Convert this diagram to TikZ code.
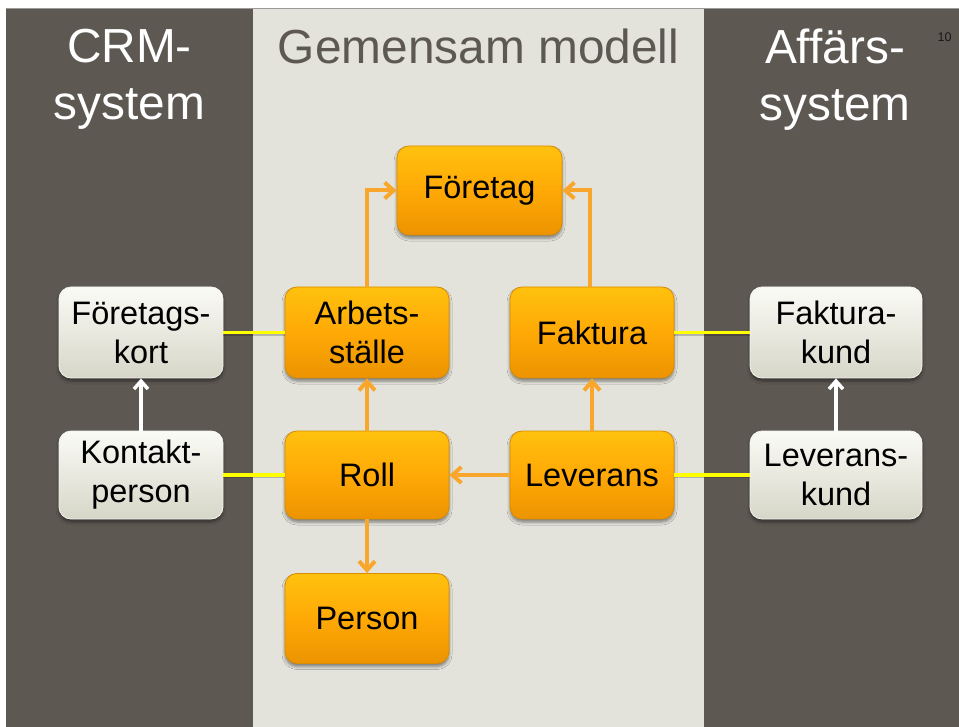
\documentclass[tikz,border=0pt]{standalone}
\usepackage{fontspec}
\setmainfont{Liberation Sans}
\usetikzlibrary{arrows.meta,shadows.blur}
\definecolor{darkpanel}{HTML}{5E5853}
\definecolor{lightpanel}{HTML}{E3E3DB}
\definecolor{orangetop}{HTML}{FFC10E}
\definecolor{orangemid}{HTML}{FFA906}
\definecolor{orangebot}{HTML}{EC9300}
\definecolor{orangeedge}{HTML}{D98C00}
\definecolor{arrowor}{HTML}{F8A72C}
\definecolor{graytop}{HTML}{FBFBF6}
\definecolor{graybot}{HTML}{D6D6C8}
\definecolor{grayedge}{HTML}{F4F4EE}
\definecolor{linkyellow}{HTML}{FFFF00}
\definecolor{titlegray}{HTML}{5E5853}
\begin{document}
\begin{tikzpicture}[x=1pt,y=-1pt,
  basebox/.style={rounded corners=12pt, minimum width=164pt, minimum height=90pt,
    align=center, inner sep=0pt, text=black,
    font=\fontsize{32.5}{39}\selectfont,
    blur shadow={shadow xshift=0pt, shadow yshift=-3pt, shadow opacity=45, shadow blur radius=3pt}},
  obox/.style={basebox, draw=orangeedge, line width=0.8pt,
    top color=orangetop, bottom color=orangebot, middle color=orangemid},
  gbox/.style={basebox, draw=grayedge, line width=0.8pt,
    top color=graytop, bottom color=graybot},
  orarrow/.style={draw=arrowor, line width=4pt,
    -{Straight Barb[length=9pt, width=16pt, line width=4pt]}},
  wharrow/.style={draw=white, line width=3.5pt,
    -{Straight Barb[length=8pt, width=14pt, line width=3.5pt]}},
  linkshadow/.style={draw=black, opacity=0.2, line width=3.5pt},
  link/.style={draw=linkyellow, line width=3.5pt},
  titlelight/.style={text=white, align=center, inner sep=0pt,
    font=\fontsize{47.8}{57}\selectfont},
  titledark/.style={text=titlegray, inner sep=0pt,
    font=\fontsize{47.8}{57}\selectfont}
]
\useasboundingbox (0,0) rectangle (959,727);
% background
\fill[white] (0,0) rectangle (959,727);
\fill[lightpanel] (253,9) rectangle (704,727);
\fill[darkpanel] (6,9) rectangle (253,727);
\fill[darkpanel] (704,9) rectangle (959,727);
\draw[draw=gray!80, line width=1pt] (6,9) -- (959,9);

% titles
\node[titlelight] (crm) at (129.5,79.5) {CRM-\\system};
\node[titledark, anchor=base] (gem) at (478.5,64) {Gemensam modell};
\node[titlelight] (aff) at (835,79.5) {Affärs-\\system};
\node[font=\fontsize{12.5}{15}\selectfont, text=black!90, inner sep=0pt] (pagenum) at (944.5,37) {10};

% nodes
\node[obox, minimum width=165pt, minimum height=89pt] (foretag) at (479.5,190.5) {Företag};
\node[obox, minimum height=91pt] (arb) at (367,332.5) {Arbets-\\ställe};
\node[obox, minimum height=91pt] (fakt) at (592,332.5) {Faktura};
\node[gbox, minimum height=91pt] (fkort) at (141,332.5) {Företags-\\kort};
\node[gbox, minimum width=172pt, minimum height=91pt] (fkund) at (836,332.5) {Faktura-\\kund};
\node[gbox, minimum height=88pt] (kontakt) at (141,475) {Kontakt-\\person};
\node[obox, minimum height=88pt] (roll) at (367,475) {Roll};
\node[obox, minimum height=88pt] (lev) at (592,475) {Leverans};
\node[gbox, minimum width=172pt, minimum height=88pt] (levkund) at (836,475) {Leverans-\\kund};
\node[obox, minimum height=90pt] (person) at (367,618.5) {Person};

% yellow links
\draw[linkshadow] ([yshift=-1.5pt]fkort.east) -- ([yshift=-1.5pt]arb.west);
\draw[link] (fkort.east) -- (arb.west);
\draw[linkshadow] ([yshift=-1.5pt]kontakt.east) -- ([yshift=-1.5pt]roll.west);
\draw[link] (kontakt.east) -- (roll.west);
\draw[linkshadow] ([yshift=-1.5pt]fakt.east) -- ([yshift=-1.5pt]fkund.west);
\draw[link] (fakt.east) -- (fkund.west);
\draw[linkshadow] ([yshift=-1.5pt]lev.east) -- ([yshift=-1.5pt]levkund.west);
\draw[link] (lev.east) -- (levkund.west);

% orange arrows
\draw[orarrow] (arb.north) |- (foretag.west);
\draw[orarrow] ([xshift=-2pt]fakt.north) |- (foretag.east);
\draw[orarrow] (roll.north) -- (arb.south);
\draw[orarrow] (lev.north) -- (fakt.south);
\draw[orarrow] (lev.west) -- (roll.east);
\draw[orarrow] (roll.south) -- (person.north);

% white arrows
\draw[wharrow] (kontakt.north) -- (fkort.south);
\draw[wharrow] (levkund.north) -- (fkund.south);
\end{tikzpicture}
\end{document}
